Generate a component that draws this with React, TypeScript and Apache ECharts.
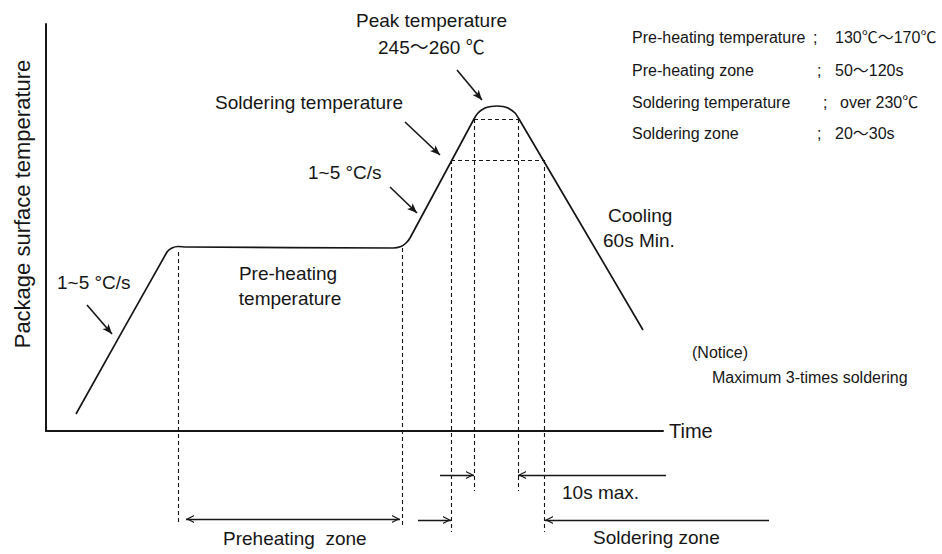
import { useEffect, useRef } from 'react';
import * as echarts from 'echarts';

// ---- Reflow profile (time units, temperature units; schematic) ----
const profileTime = [30, 121, 126, 132, 140, 347, 355, 360, 364, 428, 432, 439, 445, 451, 457, 462, 469, 473, 597];
const profileTemp = [17, 179, 183, 184.5, 184, 183, 184.5, 188, 193, 312, 318, 323, 324.5, 325, 324.5, 323, 318, 312, 101];

// Dashed guide lines: [x1, y1, x2, y2]
const guideFromX = [132, 356, 405, 428, 472, 498, 428, 405];
const guideFromY = [179, 183, 271, 312, 312, 271, 312, 271];
const guideToX = [132, 356, 405, 428, 472, 498, 472, 498];
const guideToY = [-91, -97, -101, -60, -60, -101, 312, 271];

// Pointer arrows for annotations
const pointerFromX = [41, 344, 359, 411];
const pointerFromY = [126, 244, 309, 361];
const pointerToX = [66, 371, 394, 436];
const pointerToY = [97, 218, 276, 331];

// Dimension arrows (single-headed, head at "to")
const dimFromX = [372, 723, 394, 620];
const dimFromY = [-89, -89, -44, -44];
const dimToX = [405, 499, 428, 472];
const dimToY = [-89, -89, -44, -44];

// Double-headed dimension arrow (preheating zone)
const preheatFrom = [140, -88];
const preheatTo = [354, -88];

// Texts
const axisTimeName = 'Time';
const axisTempName = 'Package surface temperature';
const noteTexts = [
  'Peak temperature',
  '245～260 ℃',
  'Soldering temperature',
  '1~5 °C/s',
  '1~5 °C/s',
  'Pre-heating',
  'temperature',
  'Cooling',
  '60s Min.',
  '(Notice)',
  'Maximum 3-times soldering',
  '10s max.',
  'Soldering zone',
  'Preheating  zone',
];
const specLabels = ['Pre-heating temperature', 'Pre-heating zone', 'Soldering temperature', 'Soldering zone'];
const specValues = ['130℃～170℃', '50～120s', 'over 230℃', '20～30s'];

const FONT = '"Liberation Sans", Arial, "Noto Sans CJK SC", sans-serif';
const INK = '#161616';

// layout for notes (pixel positions)
const noteLayout = [
  { x: 356, y: 20, s: 19, a: 'left' },
  { x: 378, y: 47, s: 19, a: 'left' },
  { x: 215, y: 102, s: 19, a: 'left' },
  { x: 308, y: 172, s: 19, a: 'left' },
  { x: 57, y: 282, s: 19, a: 'left' },
  { x: 288, y: 273, s: 19, a: 'center' },
  { x: 290, y: 298, s: 19, a: 'center' },
  { x: 608, y: 215, s: 19, a: 'left' },
  { x: 603, y: 240, s: 19, a: 'left' },
  { x: 692, y: 352, s: 16, a: 'left' },
  { x: 712, y: 377, s: 16, a: 'left' },
  { x: 562, y: 492, s: 19, a: 'left' },
  { x: 593, y: 537, s: 19, a: 'left' },
  { x: 223, y: 538, s: 19, a: 'left' },
];
const specRowY = [37, 70, 102, 133];
const specColonX = [813, 817, 823, 817];
const specValueX = [835, 835, 840, 835];

const ARROW = 'path://M5,0L5,0M5,10L9,20L5,17.5L1,20Z';
const CHEVRON = 'path://M5,0L5,0M5,10L10,20L8.4,20L5,13.2L1.6,20L0,20Z';

function txt(text: string, x: number, y: number, size: number, align: string, extra: any = {}) {
  return {
    type: 'text',
    x,
    y,
    silent: true,
    ...extra,
    style: {
      text,
      fill: INK,
      font: `${size}px ${FONT}`,
      align,
      textAlign: align,
      verticalAlign: 'middle',
      textVerticalAlign: 'middle',
    },
  };
}

export default function App() {
  const ref = useRef<HTMLDivElement>(null);
  useEffect(() => {
    const chart = echarts.init(ref.current!, null, { renderer: 'svg' });

    const graphics: any[] = [];
    noteTexts.forEach((t, i) => {
      const l = noteLayout[i];
      graphics.push(txt(t, l.x, l.y, l.s, l.a));
    });
    specLabels.forEach((t, i) => {
      graphics.push(txt(t, 632, specRowY[i], 16, 'left'));
      graphics.push(txt(';', specColonX[i], specRowY[i], 16, 'left'));
      graphics.push(txt(specValues[i], specValueX[i], specRowY[i], 16, 'left'));
    });
    graphics.push(txt(axisTempName, 22, 204, 22, 'center', { rotation: Math.PI / 2 }));

    const option: any = {
      animation: false,
      backgroundColor: '#ffffff',
      grid: { left: 46, top: 24, width: 617, height: 407, containLabel: false },
      xAxis: {
        type: 'value',
        min: 0,
        max: 617,
        name: axisTimeName,
        nameLocation: 'end',
        nameGap: 6,
        nameTextStyle: { fontSize: 20, fontFamily: FONT, color: INK, verticalAlign: 'middle', align: 'left' },
        axisLine: { show: true, onZero: false, lineStyle: { color: INK, width: 2 } },
        axisTick: { show: false },
        axisLabel: { show: false },
        splitLine: { show: false },
      },
      yAxis: {
        type: 'value',
        min: 0,
        max: 407,
        axisLine: { show: true, onZero: false, lineStyle: { color: INK, width: 2 } },
        axisTick: { show: false },
        axisLabel: { show: false },
        splitLine: { show: false },
      },
      graphic: graphics,
      series: [
        {
          type: 'line',
          data: profileTime.map((t, i) => [t, profileTemp[i]]),
          showSymbol: false,
          smooth: 0.2,
          silent: true,
          lineStyle: { color: INK, width: 1.7 },
        },
        {
          type: 'lines',
          coordinateSystem: 'cartesian2d',
          clip: false,
          silent: true,
          lineStyle: { color: INK, width: 1.1, type: [4, 3], opacity: 1 },
          data: guideFromX.map((x, i) => ({
            coords: [
              [x, guideFromY[i]],
              [guideToX[i], guideToY[i]],
            ],
          })),
        },
        {
          type: 'lines',
          coordinateSystem: 'cartesian2d',
          clip: false,
          silent: true,
          symbol: ['none', ARROW],
          symbolSize: [0, [8, 20]],
          lineStyle: { color: INK, width: 1.6, opacity: 1 },
          data: pointerFromX.map((x, i) => ({
            coords: [
              [x, pointerFromY[i]],
              [pointerToX[i], pointerToY[i]],
            ],
          })),
        },
        {
          type: 'lines',
          coordinateSystem: 'cartesian2d',
          clip: false,
          silent: true,
          symbol: ['none', CHEVRON],
          symbolSize: [0, [8, 16]],
          lineStyle: { color: INK, width: 1.4, opacity: 1 },
          data: dimFromX.map((x, i) => ({
            coords: [
              [x, dimFromY[i]],
              [dimToX[i], dimToY[i]],
            ],
          })),
        },
        {
          type: 'lines',
          coordinateSystem: 'cartesian2d',
          clip: false,
          silent: true,
          symbol: [CHEVRON, CHEVRON],
          symbolSize: [[8, 16], [8, 16]],
          lineStyle: { color: INK, width: 1.4, opacity: 1 },
          data: [{ coords: [preheatFrom, preheatTo] }],
        },
      ],
    };
    chart.setOption(option);
    return () => chart.dispose();
  }, []);
  return (
    <div
      ref={ref}
      style={{ position: 'fixed', left: 0, top: 0, width: 942, height: 554, background: '#fff' }}
    />
  );
}
